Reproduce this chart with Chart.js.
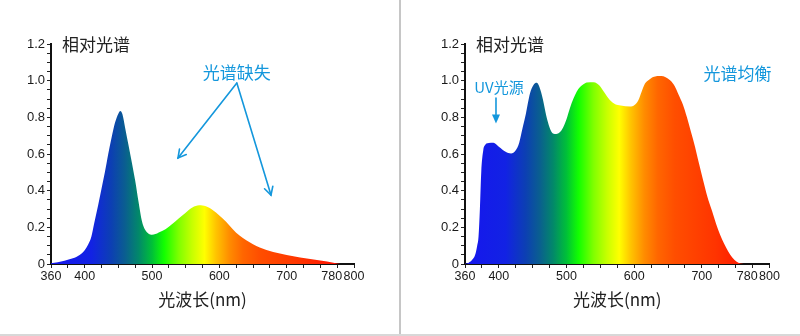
<!DOCTYPE html>
<html><head><meta charset="utf-8">
<script src="https://cdn.jsdelivr.net/npm/chart.js@4.4.1/dist/chart.umd.min.js"></script>
<style>
html,body{margin:0;padding:0;background:#fff;}
#wrap{position:relative;width:800px;height:336px;overflow:hidden;background:#fff;}
#c1{position:absolute;left:0;top:0;}
#c2{position:absolute;left:400px;top:0;}
#sep{position:absolute;left:399px;top:0;width:2px;height:336px;background:#c6c6c6;}
#bot{position:absolute;left:0;top:334px;width:800px;height:2px;background:#d8d8d8;}
</style></head><body>
<div id="wrap"><canvas id="c1" width="400" height="336"></canvas><canvas id="c2" width="400" height="336"></canvas><div id="sep"></div><div id="bot"></div></div>
<script>
// ---- data ----
const leftWavelengths = [350,360,370,380,390,400,405,410,414,420,425,430,435,440,445,450,453,456,460,465,470,475,480,485,490,495,500,505,510,520,530,540,550,560,570,580,590,600,610,620,630,640,650,660,670,680,690,700,720,740,760,775,780];
const leftValues = [0.004,0.01,0.018,0.028,0.043,0.075,0.105,0.15,0.22,0.32,0.41,0.5,0.6,0.69,0.77,0.82,0.835,0.818,0.745,0.65,0.555,0.455,0.34,0.235,0.185,0.165,0.16,0.163,0.172,0.19,0.218,0.25,0.28,0.308,0.32,0.315,0.295,0.265,0.23,0.19,0.155,0.13,0.108,0.09,0.077,0.066,0.057,0.049,0.036,0.025,0.013,0.003,0];
const rightWavelengths = [350,355,360,365,368,370,372,374,377,380,385,392,400,410,418,425,430,435,440,446,451,456,460,465,470,475,480,485,490,495,500,505,510,515,520,525,530,540,545,549,556,564,572,580,594,600,606,611,616,622,628,640,653,660,665,672,678,684,690,696,702,708,715,721,727,733,739,745,751,757,762];
const rightValues = [0.002,0.006,0.02,0.05,0.1,0.15,0.3,0.5,0.62,0.65,0.66,0.662,0.64,0.612,0.603,0.62,0.66,0.74,0.82,0.93,0.975,0.988,0.965,0.9,0.81,0.745,0.712,0.709,0.718,0.745,0.79,0.85,0.9,0.94,0.965,0.98,0.99,0.992,0.985,0.972,0.935,0.895,0.872,0.865,0.859,0.866,0.892,0.94,0.984,1.005,1.02,1.025,1.002,0.97,0.929,0.87,0.8,0.72,0.638,0.545,0.455,0.37,0.29,0.22,0.16,0.11,0.068,0.035,0.013,0.003,0];

const xTickValues = [350,400,500,600,700,767,800];
const xTickLabels = ['360','400','500','600','700','780','800'];
const yTickValues = [0,0.2,0.4,0.6,0.8,1.0,1.2];
const yTickLabels = ['0','0.2','0.4','0.6','0.8','1.0','1.2'];
const chartTitle = '相对光谱';
const xAxisTitle = '光波长(nm)';

const leftNotes = [{text:'光谱缺失', wl:626, v:1.042, size:17}];
const leftArrows = [{from:[626,0.987], to:[538.6,0.578], head:'open'},{from:[626,0.987], to:[676.7,0.376], head:'open'}];
const rightNotes = [{text:'UV光源', wl:400.2, v:0.964, size:15},{text:'光谱均衡', wl:752.7, v:1.041, size:17}];
const rightArrows = [{from:[395.8,0.905], to:[395.8,0.766], head:'filled'}];

// ---- styles ----
const gradStops = [[350,'#1616ee'],[410,'#1222e4'],[440,'#0c40b2'],[460,'#0a5e90'],[480,'#02886a'],[500,'#00c038'],[518,'#12ff00'],[540,'#80ff00'],[560,'#c8ff00'],[578,'#ffff00'],[595,'#ffc400'],[615,'#ff8c00'],[635,'#ff6600'],[660,'#ff4e00'],[720,'#ff3400'],[780,'#ff0c00'],[800,'#ff0000']];
const NOTE_COLOR = '#1497dc';
const CJK = '"Noto Sans CJK SC", "Noto Sans", sans-serif';
const NUM = '"Liberation Sans", Arial, sans-serif';

function spectrumFill(context){
  const chart = context.chart;
  const area = chart.chartArea;
  if (!area) return 'rgba(0,0,0,0)';
  const xs = chart.scales.x;
  const x0 = xs.getPixelForValue(350), x1 = xs.getPixelForValue(800);
  const g = chart.ctx.createLinearGradient(x0, 0, x1, 0);
  gradStops.forEach(([wl,c]) => g.addColorStop((wl-350)/450, c));
  return g;
}

const notesPlugin = {
  id: 'notes',
  afterDraw(chart, args, opts){
    const ctx = chart.ctx, xs = chart.scales.x, ys = chart.scales.y, area = chart.chartArea;
    ctx.save();
    ctx.fillStyle = '#222';
    ctx.font = '17px ' + CJK;
    ctx.textAlign = 'left';
    ctx.textBaseline = 'middle';
    ctx.fillText(chartTitle, area.left + 11, area.top + 1);
    ctx.fillStyle = NOTE_COLOR;
    ctx.textAlign = 'center';
    (opts.notes||[]).forEach(n => {
      ctx.font = n.size + 'px ' + CJK;
      ctx.fillText(n.text, xs.getPixelForValue(n.wl), ys.getPixelForValue(n.v));
    });
    ctx.strokeStyle = NOTE_COLOR;
    ctx.lineWidth = 1.6;
    ctx.lineCap = 'round';
    (opts.arrows||[]).forEach(a => {
      const px0 = xs.getPixelForValue(a.from[0]), py0 = ys.getPixelForValue(a.from[1]);
      const px1 = xs.getPixelForValue(a.to[0]), py1 = ys.getPixelForValue(a.to[1]);
      const ang = Math.atan2(py1-py0, px1-px0);
      ctx.beginPath();
      if (a.head === 'filled') {
        const L = 9, W = 4;
        const bx = px1 - L*Math.cos(ang), by = py1 - L*Math.sin(ang);
        ctx.moveTo(px0, py0); ctx.lineTo(bx, by); ctx.stroke();
        ctx.beginPath();
        ctx.moveTo(px1, py1);
        ctx.lineTo(bx + W*Math.sin(ang), by - W*Math.cos(ang));
        ctx.lineTo(bx - W*Math.sin(ang), by + W*Math.cos(ang));
        ctx.closePath(); ctx.fillStyle = NOTE_COLOR; ctx.fill();
      } else {
        ctx.moveTo(px0, py0); ctx.lineTo(px1, py1); ctx.stroke();
        const L = 9, sp = 0.5;
        ctx.beginPath();
        ctx.moveTo(px1 - L*Math.cos(ang-sp), py1 - L*Math.sin(ang-sp));
        ctx.lineTo(px1, py1);
        ctx.lineTo(px1 - L*Math.cos(ang+sp), py1 - L*Math.sin(ang+sp));
        ctx.stroke();
      }
    });
    ctx.restore();
  }
};

function makeChart(id, wls, vals, cfg){
  const points = wls.map((w,i) => ({x:w, y:vals[i]}));
  return new Chart(document.getElementById(id), {
    type: 'line',
    data: { datasets: [{
      data: points,
      fill: 'origin',
      backgroundColor: spectrumFill,
      borderWidth: 0,
      borderColor: 'rgba(0,0,0,0)',
      pointRadius: 0,
      cubicInterpolationMode: 'monotone'
    }]},
    options: {
      responsive: false,
      animation: false,
      devicePixelRatio: 1,
      layout: { padding: { left: 0, top: 44, right: cfg.padRight, bottom: 0 } },
      plugins: { legend: {display:false}, tooltip: {enabled:false}, notes: {notes: cfg.notes, arrows: cfg.arrows} },
      scales: {
        x: {
          type: 'linear', min: 350, max: 800,
          afterBuildTicks(scale){
            const t = [];
            for (let v = 350; v <= 800; v += 25) t.push(v);
            t.push(767);
            t.sort((a,b)=>a-b);
            scale.ticks = t.map(v => ({value: v}));
          },
          afterFit(scale){ scale.height = 72; },
          ticks: {
            autoSkip: false, maxRotation: 0, minRotation: 0, padding: 1,
            color: '#1a1a1a', font: {family: NUM, size: 12.5},
            callback(v){ const i = xTickValues.indexOf(v); return i >= 0 ? xTickLabels[i] : ''; }
          },
          grid: {
            display: true, drawOnChartArea: false, drawTicks: true, tickLength: 4, tickWidth: 1,
            tickColor: (c) => (c.tick && c.tick.value === 767) ? 'rgba(0,0,0,0)' : '#222'
          },
          border: { display: true, color: '#111', width: 2 },
          title: { display: true, text: xAxisTitle, color: '#222', font: {family: CJK, size: 17}, padding: {top: 26, bottom: 25.8} }
        },
        y: {
          type: 'linear', min: 0, max: 1.2,
          afterBuildTicks(scale){
            const t = [];
            for (let i = 0; i <= 24; i++) t.push(Math.round(i*5)/100);
            scale.ticks = t.map(v => ({value: v}));
          },
          afterFit(scale){ scale.width = cfg.yWidth; },
          ticks: {
            autoSkip: false, padding: 2,
            color: '#1a1a1a', font: {family: NUM, size: 13},
            callback(v){ const i = yTickValues.findIndex(t => Math.abs(t - v) < 1e-6); return i >= 0 ? yTickLabels[i] : ''; }
          },
          grid: { display: true, drawOnChartArea: false, drawTicks: true, tickLength: 4, tickWidth: 1, tickColor: '#222' },
          border: { display: true, color: '#111', width: 2 }
        }
      }
    },
    plugins: [notesPlugin]
  });
}

makeChart('c1', leftWavelengths, leftValues, {yWidth: 51, padRight: 46, notes: leftNotes, arrows: leftArrows});
makeChart('c2', rightWavelengths, rightValues, {yWidth: 65, padRight: 30.5, notes: rightNotes, arrows: rightArrows});
</script>
</body></html>
